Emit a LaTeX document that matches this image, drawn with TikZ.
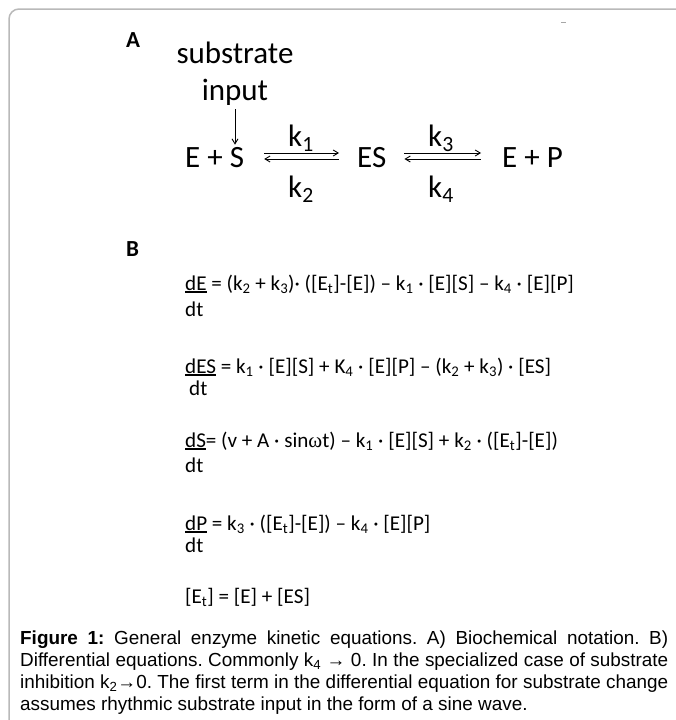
\documentclass[tikz,border=0pt]{standalone}
\usepackage{fontspec}
\setmainfont{Carlito}
\newfontfamily\capfont{Liberation Sans}
\newfontfamily\grkfont{Liberation Serif}
\usetikzlibrary{arrows.meta}
\newcommand{\sbs}[1]{\textsubscript{#1}}
\newcommand{\numer}[1]{\setbox0\hbox{#1}\rlap{\rule[-2.6pt]{\wd0}{1.5pt}}\box0\relax}

\begin{document}
\begin{tikzpicture}[x=1pt, y=-1pt, >={Straight Barb[length=5pt,width=6pt]},
  species/.style={inner sep=0pt, anchor=base west, font=\fontsize{31}{37}\selectfont},
  rate/.style={inner sep=0pt, anchor=base, font=\fontsize{31}{37}\selectfont},
  eqn/.style={inner sep=0pt, anchor=base west, font=\fontsize{21.1}{25}\selectfont},
  panel/.style={inner sep=0pt, anchor=base west, font=\fontsize{23}{27}\bfseries\selectfont},
  captext/.style={inner sep=0pt, anchor=base west, font=\fontsize{18.9}{22}\capfont\frenchspacing},
  react/.style={line width=0.9pt},
  frame/.style={draw=gray!55, line width=1.5pt, rounded corners=10pt}]
\useasboundingbox (0,0) rectangle (676,720);

% frame
\draw[frame] (9,720) -- (9,9) -- (676,9);
\draw[gray!70, line width=0.8pt] (561,22) -- (566,22);

% A: biochemical notation
\node[panel] (lblA) at (126,47) {A};
\node[rate] (subst) at (235,63) {substrate};
\node[rate] (inp) at (235,100) {input};
\node[species] (lhs) at (185,167) {E + S};
\node[species] (es) at (357,167) {ES};
\node[species] (rhs) at (502,167) {E + P};

\draw[->, react, shorten <=4pt, shorten >=2pt] (inp.south) -- (inp.south |- lhs.north);

\draw[->, react] ([xshift=20pt, yshift=14pt]lhs.base east) -- ([xshift=-18pt, yshift=14pt]es.base west);
\draw[<-, react] ([xshift=20pt, yshift=8pt]lhs.base east) -- ([xshift=-18pt, yshift=8pt]es.base west);
\draw[->, react] ([xshift=18pt, yshift=14pt]es.base east) -- ([xshift=-21pt, yshift=14pt]rhs.base west);
\draw[<-, react] ([xshift=18pt, yshift=8pt]es.base east) -- ([xshift=-21pt, yshift=8pt]rhs.base west);

\node[rate] (k1) at (301,146) {k\sbs{1}};
\node[rate] (k2) at (301,197) {k\sbs{2}};
\node[rate] (k3) at (441,146) {k\sbs{3}};
\node[rate] (k4) at (441,197) {k\sbs{4}};

% B: differential equations
\node[panel] (lblB) at (126,256) {B};
\node[eqn] (eqE) at (185,290) {\numer{dE} = (k\sbs{2} + k\sbs{3})· ([E\sbs{t}]-[E]) – k\sbs{1} · [E][S] – k\sbs{4} · [E][P]};
\node[eqn] (dtE) at (185,316) {dt};
\node[eqn] (eqES) at (185,373) {\numer{dES} = k\sbs{1} · [E][S] + K\sbs{4} · [E][P] – (k\sbs{2} + k\sbs{3}) · [ES]};
\node[eqn] (dtES) at (189,395) {dt};
\node[eqn] (eqS) at (185,447) {\numer{dS}= (v + A · sin{\grkfont ω}t) – k\sbs{1} · [E][S] + k\sbs{2} · ([E\sbs{t}]-[E])};
\node[eqn] (dtS) at (185,472) {dt};
\node[eqn] (eqP) at (185,530) {\numer{dP} = k\sbs{3} · ([E\sbs{t}]-[E]) – k\sbs{4} · [E][P]};
\node[eqn] (dtP) at (185,552) {dt};
\node[eqn] (eqEt) at (185,603) {[E\sbs{t}] = [E] + [ES]};

% caption
\node[captext] (cap1) at (20,644) {\makebox[648pt][s]{\textbf{Figure 1:} General enzyme kinetic equations. A) Biochemical notation. B)}};
\node[captext] (cap2) at (20,666) {\makebox[648pt][s]{Differential equations. Commonly k\sbs{4} → 0. In the specialized case of substrate}};
\node[captext] (cap3) at (20,688) {\makebox[648pt][s]{inhibition k\sbs{2}→0. The first term in the differential equation for substrate change}};
\node[captext] (cap4) at (20,710) {assumes rhythmic substrate input in the form of a sine wave.};
\end{tikzpicture}
\end{document}
